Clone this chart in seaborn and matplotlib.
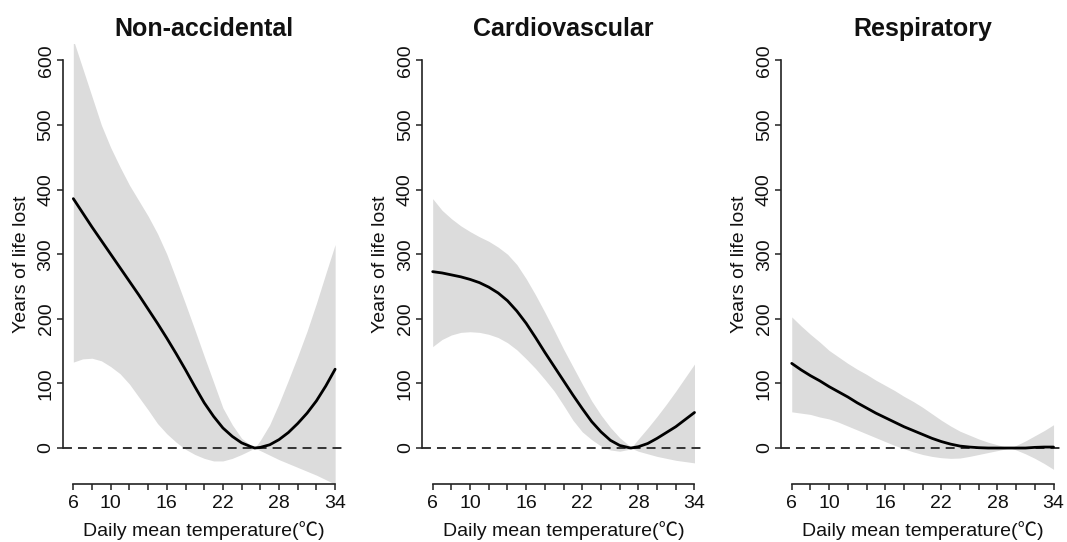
import numpy as np
import pandas as pd
import matplotlib
matplotlib.use("Agg")
import matplotlib.pyplot as plt
import seaborn as sns

# ---------------- data ----------------
titles = ["Non-accidental", "Cardiovascular", "Respiratory"]

temp_nonacc = [6, 7, 8, 9, 10, 11, 12, 13, 14, 15, 16, 17, 18, 19, 20, 21, 22, 23, 24, 25, 25.4,
               26, 27, 28, 29, 30, 31, 32, 33, 34]
yll_nonacc = [386, 364, 342, 321, 300, 279, 258, 237, 215, 193, 170, 146, 121, 95, 70, 49, 31, 18, 8, 2, 0,
              1, 5, 13, 24, 38, 54, 73, 96, 122]
hi_nonacc = [632, 588, 544, 500, 465, 435, 407, 383, 359, 332, 300, 262, 223, 183, 142, 102, 62, 36, 15, 4, 0,
             12, 36, 69, 105, 142, 181, 224, 270, 315]
lo_nonacc = [133, 138, 139, 135, 126, 115, 99, 79, 59, 38, 22, 9, -2, -10, -16, -20, -20, -16, -10, -3, 0,
             -4, -11, -18, -24, -30, -36, -42, -49, -56]

temp_cardio = [6, 7, 8, 9, 10, 11, 12, 13, 14, 15, 16, 17, 18, 19, 20, 21, 22, 23, 24, 25, 26, 27, 27.2,
               28, 29, 30, 31, 32, 33, 34]
yll_cardio = [273, 271, 268, 265, 261, 256, 249, 240, 228, 212, 193, 171, 148, 126, 104, 82, 61, 41, 25, 12, 4, 0.5, 0,
              2, 7, 15, 24, 33, 44, 55]
hi_cardio = [386, 368, 355, 344, 335, 327, 320, 311, 300, 284, 262, 237, 210, 182, 153, 126, 99, 73, 51, 32, 16, 4, 0,
             14, 31, 49, 68, 88, 109, 130]
lo_cardio = [157, 168, 175, 179, 180, 179, 176, 171, 163, 152, 138, 123, 106, 88, 66, 43, 25, 13, 3, -3, -5, -2, 0,
             -5, -9, -13, -16, -19, -21, -23]

temp_resp = [6, 7, 8, 9, 10, 11, 12, 13, 14, 15, 16, 17, 18, 19, 20, 21, 22, 23, 24, 25, 26, 27, 28, 29, 29.4,
             30, 31, 32, 33, 34]
yll_resp = [131, 121, 112, 104, 95, 87, 79, 70, 62, 54, 47, 40, 33, 27, 21, 15, 10, 6, 3, 1.5, 0.5, 0, 0, 0, 0,
            0, 0, 1, 1.5, 1.5]
hi_resp = [203, 189, 176, 164, 151, 141, 131, 122, 114, 105, 97, 89, 80, 72, 63, 53, 43, 34, 26, 20, 14, 9, 5, 1, 0,
           4, 11, 19, 27, 36]
lo_resp = [56, 54, 52, 48, 45, 40, 34, 28, 22, 16, 10, 4, -1, -6, -10, -13, -15, -16, -15.5, -13, -10, -7, -4, -1, 0,
           -3, -9, -16, -24, -33]

panels = [
    (temp_nonacc, yll_nonacc, lo_nonacc, hi_nonacc),
    (temp_cardio, yll_cardio, lo_cardio, hi_cardio),
    (temp_resp, yll_resp, lo_resp, hi_resp),
]

x_ticks = list(range(6, 35, 2))
x_ticklabels_shown = [6, 10, 16, 22, 28, 34]
y_ticks = [0, 100, 200, 300, 400, 500, 600]

# ---------------- style ----------------
sns.set_style("white")
plt.rcParams["font.family"] = ["Liberation Sans", "Noto Sans CJK SC", "DejaVu Sans"]

fig = plt.figure(figsize=(10.67, 5.42), dpi=100)
lefts = [0.0589, 0.3957, 0.7322]
axis_col = "#222222"
text_col = "#111111"

for i, (t, y, lo, hi) in enumerate(panels):
    ax = fig.add_axes([lefts[i], 0.1076, 0.2650, 0.811])
    df = pd.DataFrame({"temp": t, "yll": y, "lo": lo, "hi": hi})
    ax.fill_between(df["temp"], df["lo"], df["hi"], color="#DCDCDC", linewidth=0, zorder=1)
    ax.axhline(0, color="#333333", lw=1.4, linestyle=(0, (4.6, 3.1)), zorder=2)
    sns.lineplot(data=df, x="temp", y="yll", ax=ax, color="black", lw=2.0, estimator=None,
                 sort=False, zorder=3)

    ax.set_xlim(4.88, 35.12)
    ax.set_ylim(-55.2, 625.2)

    for s in ["top", "right"]:
        ax.spines[s].set_visible(False)
    for s in ["left", "bottom"]:
        ax.spines[s].set_color(axis_col)
        ax.spines[s].set_linewidth(1.2)
    ax.spines["left"].set_bounds(0, 600)
    ax.spines["bottom"].set_bounds(6, 34)

    ax.set_xticks(x_ticks)
    ax.set_xticklabels([str(v) if v in x_ticklabels_shown else "" for v in x_ticks])
    ax.set_yticks(y_ticks)
    ax.set_yticklabels([str(v) for v in y_ticks], rotation=90, va="center")
    ax.tick_params(axis="both", direction="out", length=4.5, width=1.1, color=axis_col,
                   labelsize=14, labelcolor=text_col, bottom=True, left=True)
    ax.tick_params(axis="x", pad=4)
    ax.tick_params(axis="y", pad=1.5)

    ax.set_xlabel("Daily mean temperature(℃)", fontsize=14, color=text_col)
    ax.set_ylabel("Years of life lost", fontsize=14, color=text_col)
    ax.yaxis.set_label_coords(-0.116, 0.5)
    ax.xaxis.set_label_coords(0.5, -0.086)
    ax.set_title(titles[i], fontsize=18, fontweight="bold", pad=5.5, color=text_col)

fig.savefig("out.png", dpi=100)
